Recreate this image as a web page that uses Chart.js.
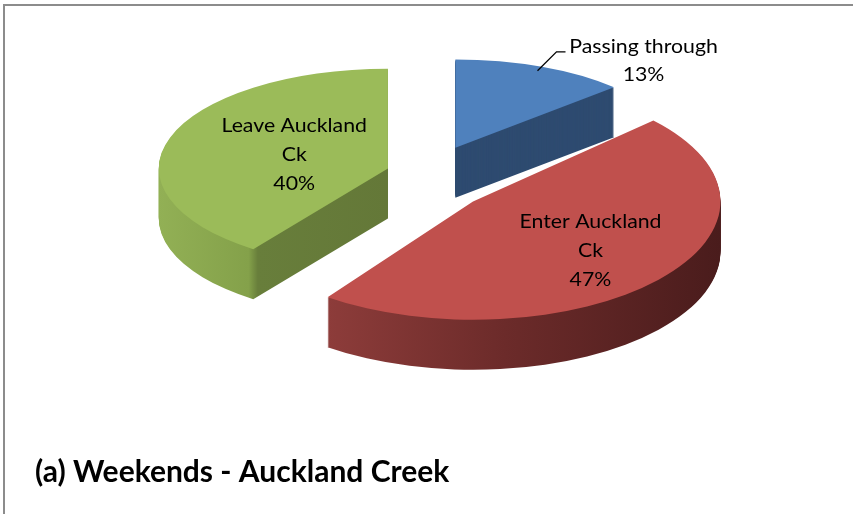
<!DOCTYPE html>
<html>
<head>
<meta charset="utf-8">
<script src="https://cdn.jsdelivr.net/npm/chart.js@4"></script>
<style>
  html, body { margin: 0; padding: 0; background: #fff; }
  #wrap { position: relative; width: 853px; height: 514px; overflow: hidden; }
  #frame { position: absolute; left: 3px; top: 4px; width: 900px; height: 600px;
           border-top: 2px solid #8c8c8c; border-left: 2px solid #8c8c8c; }
  canvas { position: absolute; left: 0; top: 0; }
</style>
</head>
<body>
<div id="wrap"><div id="frame"></div><canvas id="myChart" width="853" height="514"></canvas></div>
<script>
// data (clockwise from 12 o'clock)
let categories = ['Passing through', 'Enter Auckland Ck', 'Leave Auckland Ck'];
let labelNames = [['Passing through'], ['Enter Auckland', 'Ck'], ['Leave Auckland', 'Ck']];
let shares = [13, 47, 40];
let chartTitle = '(a) Weekends - Auckland Creek';

// looks
let topColours = ['#4F81BD', '#C0504D', '#9BBB59'];
const tilt = 0.45;      // vertical squash of the pie
const depth = 50;       // height of the pie walls, px
const explode = 50;     // how far slices are pulled out, px
const explodeY = 0.68;  // extra squash of the pull-out in y
const perspX = 0.08;    // front slices a bit bigger than back ones
const perspY = 0.18;
const labelFrac = [0.95, 0.633, 0.43];
const textStretch = 1.12;

function mid(el) { return (el.startAngle + el.endAngle) / 2; }

function shift(el) {
    let m = mid(el);
    return { x: Math.cos(m) * explode, y: Math.sin(m) * explode * explodeY };
}

function persp(el) {
    let k = Math.sin(mid(el));
    return { x: 1 + perspX * k, y: 1 + perspY * k };
}

// point on the drawn (tilted, exploded) top face
function onScreen(el, frac) {
    let m = mid(el), s = shift(el), f = persp(el);
    return {
        x: el.x + s.x + Math.cos(m) * frac * el.outerRadius * f.x,
        y: el.y + s.y + Math.sin(m) * frac * el.outerRadius * tilt * f.y
    };
}

// wall colours, in the pie's own (unexploded) coordinates
function sideFill(ctx, el, i) {
    let R = el.outerRadius;
    if (i == 0) return '#2e4b70';
    if (i == 1) {
        let g = ctx.createLinearGradient(el.x + Math.cos(el.endAngle) * R, 0, el.x + R, 0);
        g.addColorStop(0, '#8d3c3a');
        g.addColorStop(0.45, '#6c2b2a');
        g.addColorStop(1, '#4a1c1c');
        return g;
    }
    let x0 = el.x - R, x1 = el.x;
    let xc = el.x + Math.cos(el.startAngle) * R;   // outer corner
    let c = (xc - x0) / (x1 - x0);
    let g = ctx.createLinearGradient(x0, 0, x1, 0);
    g.addColorStop(0, '#92b055');
    g.addColorStop(Math.max(c - 0.02, 0), '#84a14a');
    g.addColorStop(Math.min(c + 0.02, 1), '#687e3b');
    g.addColorStop(1, '#647838');
    return g;
}

function drawSlice(ctx, el, fill, dy) {
    let s = shift(el), f = persp(el);
    ctx.save();
    ctx.translate(el.x + s.x, el.y + s.y + dy);
    ctx.scale(f.x, tilt * f.y);
    ctx.translate(-el.x, -el.y);
    let saved = el.options;
    el.options = Object.assign({}, saved, { backgroundColor: typeof fill == 'function' ? fill() : fill });
    el.draw(ctx);
    el.options = saved;
    ctx.restore();
}

function stretchedText(ctx, t, x, y) {
    ctx.save();
    ctx.translate(x, y);
    ctx.scale(textStretch, 1);
    ctx.fillText(t, 0, 0);
    ctx.restore();
}

const pie3d = {
    id: 'pie3d',
    beforeDatasetsDraw(chart) {
        let ctx = chart.ctx;
        let arcs = chart.getDatasetMeta(0).data;
        // walls, stacked from the bottom up
        for (let d = depth; d > 0; d--) {
            arcs.forEach((el, i) => drawSlice(ctx, el, () => sideFill(ctx, el, i), d));
        }
        // top faces
        arcs.forEach((el, i) => drawSlice(ctx, el, topColours[i], 0));
        return false;
    },
    afterDraw(chart) {
        let ctx = chart.ctx;
        let arcs = chart.getDatasetMeta(0).data;
        ctx.save();
        ctx.font = '19px Lato';
        ctx.fillStyle = '#000';
        ctx.textAlign = 'center';
        ctx.textBaseline = 'middle';
        arcs.forEach((el, i) => {
            let lines = labelNames[i].concat([shares[i] + '%']);
            let p = onScreen(el, labelFrac[i]);
            let cx = p.x, cy = p.y, lh = 29;
            if (i == 0) {
                // outside label with leader line
                ctx.strokeStyle = '#000';
                ctx.lineWidth = 1.3;
                ctx.beginPath();
                ctx.moveTo(p.x, p.y);
                ctx.lineTo(p.x + 19, p.y - 19);
                ctx.lineTo(p.x + 28, p.y - 19);
                ctx.stroke();
                cx = p.x + 106;
                cy = p.y - 10;
                lh = 28;
            }
            let top = cy - (lines.length - 1) * lh / 2;
            lines.forEach((t, k) => stretchedText(ctx, t, cx, top + k * lh));
        });
        ctx.restore();
    }
};

myChart = new Chart(document.getElementById('myChart'), {
    type: 'pie',
    data: {
        labels: categories,
        datasets: [{
            data: shares,
            backgroundColor: topColours,
            borderWidth: 0,
            radius: 235
        }]
    },
    options: {
        responsive: false,
        animation: false,
        events: [],
        layout: { padding: { left: 35, right: 17, top: 0, bottom: 24 } },
        plugins: {
            legend: { display: false },
            tooltip: { enabled: false },
            title: {
                display: true,
                text: chartTitle,
                position: 'bottom',
                align: 'start',
                color: '#000',
                font: { family: 'Lato', size: 30, weight: 'bold' },
                padding: { top: 96, bottom: 0 }
            }
        }
    },
    plugins: [pie3d]
});
</script>
</body>
</html>
